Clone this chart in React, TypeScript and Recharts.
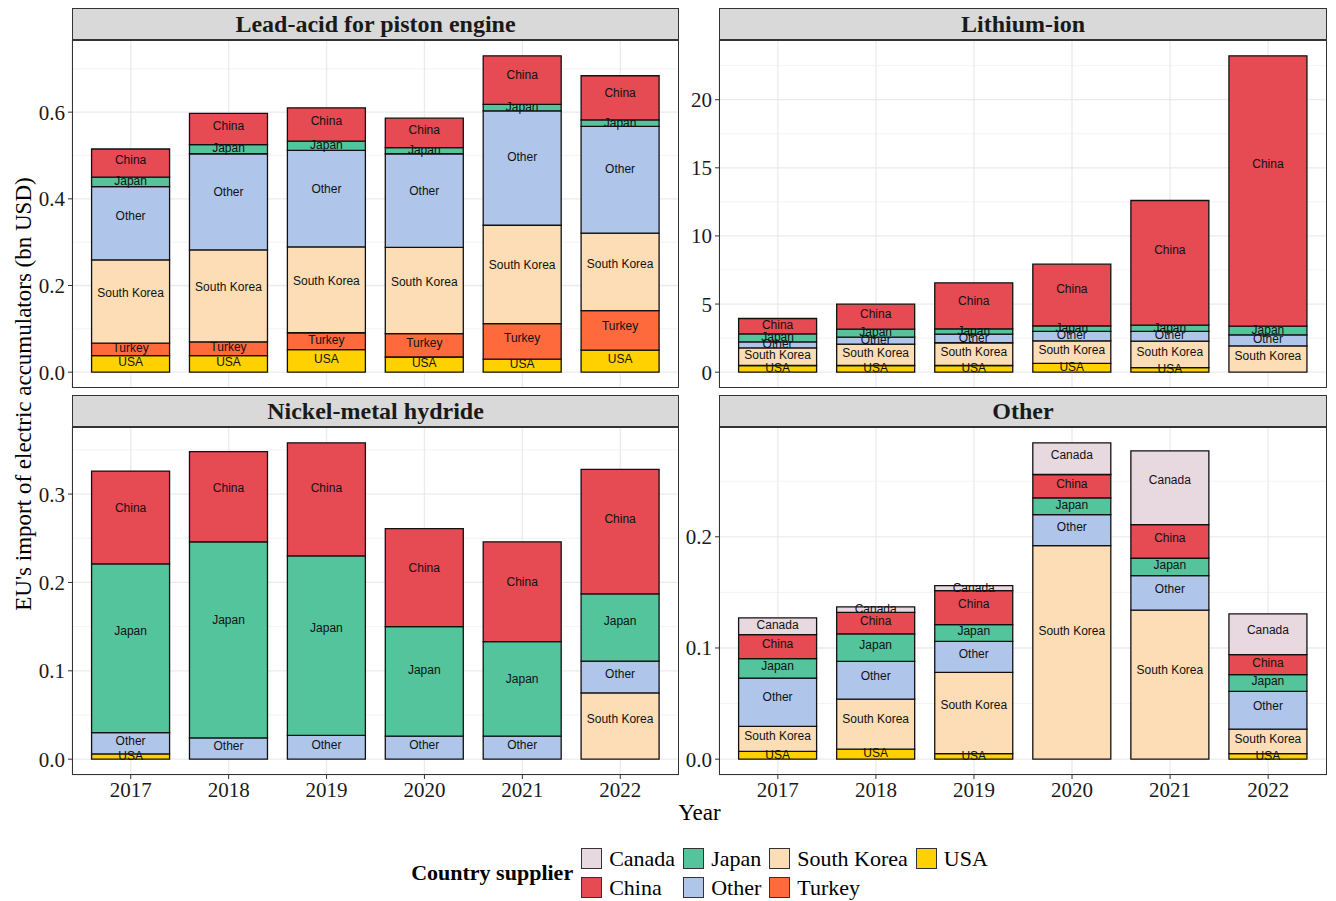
import React from 'react';
import { BarChart, Bar, XAxis, YAxis, CartesianGrid, LabelList } from 'recharts';

const years = ['2017', '2018', '2019', '2020', '2021', '2022'];
const legendOrder = ['Canada', 'China', 'Japan', 'Other', 'South Korea', 'Turkey', 'USA'];
const stackOrder = ['USA', 'Turkey', 'South Korea', 'Other', 'Japan', 'China', 'Canada'];
const colors: Record<string, string> = {
  Canada: '#E8D8E0',
  China: '#E64A53',
  Japan: '#53C49B',
  Other: '#AFC6EA',
  'South Korea': '#FDDDB6',
  Turkey: '#FF6A3D',
  USA: '#FFD100',
};

// Lead-acid for piston engine (bn USD)
const leadUSA = [0.038, 0.038, 0.052, 0.035, 0.030, 0.051];
const leadTurkey = [0.029, 0.032, 0.039, 0.054, 0.082, 0.091];
const leadSouthKorea = [0.192, 0.212, 0.198, 0.199, 0.227, 0.179];
const leadOther = [0.169, 0.222, 0.223, 0.216, 0.264, 0.246];
const leadJapan = [0.022, 0.021, 0.021, 0.014, 0.015, 0.015];
const leadChina = [0.065, 0.072, 0.077, 0.068, 0.112, 0.102];

// Lithium-ion
const liUSA = [0.49, 0.49, 0.49, 0.64, 0.34, 0];
const liSouthKorea = [1.29, 1.57, 1.67, 1.66, 1.94, 1.93];
const liOther = [0.44, 0.51, 0.63, 0.69, 0.71, 0.81];
const liJapan = [0.59, 0.59, 0.39, 0.41, 0.46, 0.64];
const liChina = [1.13, 1.83, 3.38, 4.53, 9.15, 19.84];

// Nickel-metal hydride
const niUSA = [0.006, 0, 0, 0, 0, 0];
const niSouthKorea = [0, 0, 0, 0, 0, 0.075];
const niOther = [0.024, 0.024, 0.027, 0.026, 0.026, 0.036];
const niJapan = [0.191, 0.222, 0.203, 0.124, 0.107, 0.076];
const niChina = [0.105, 0.102, 0.128, 0.111, 0.113, 0.141];

// Other
const otUSA = [0.007, 0.009, 0.005, 0, 0, 0.005];
const otSouthKorea = [0.0225, 0.045, 0.073, 0.192, 0.134, 0.022];
const otOther = [0.0434, 0.034, 0.028, 0.028, 0.031, 0.034];
const otJapan = [0.0175, 0.0247, 0.015, 0.015, 0.0157, 0.015];
const otChina = [0.0216, 0.0193, 0.0306, 0.021, 0.0303, 0.018];
const otCanada = [0.015, 0.005, 0.0045, 0.0285, 0.0663, 0.0366];

const leadTicks = [0, 0.2, 0.4, 0.6];
const leadMinor = [0.1, 0.3, 0.5, 0.7];
const liTicks = [0, 5, 10, 15, 20];
const liMinor = [2.5, 7.5, 12.5, 17.5, 22.5];
const niTicks = [0, 0.1, 0.2, 0.3];
const niMinor = [0.05, 0.15, 0.25, 0.35];
const otTicks = [0, 0.1, 0.2];
const otMinor = [0.05, 0.15, 0.25];

const SERIF = '"Liberation Serif", "Times New Roman", serif';
const SANS = '"Liberation Sans", Arial, sans-serif';

function buildRows(series: Record<string, number[]>) {
  return years.map((y, i) => {
    const row: Record<string, any> = { year: y };
    Object.keys(series).forEach((k) => {
      row[k] = series[k][i];
    });
    return row;
  });
}

const makeLabel = (name: string) => (props: any) => {
  const vb = props.viewBox && props.viewBox.width !== undefined ? props.viewBox : props;
  const { x, y, width, height } = vb;
  const value = props.value;
  if (!value || !height || Math.abs(height) < 0.1) return null;
  return (
    <text
      x={x + width / 2}
      y={y + height * 0.4}
      textAnchor="middle"
      dominantBaseline="central"
      fontSize={12}
      fontFamily={SANS}
      fill="#111"
    >
      {name}
    </text>
  );
};

type PanelProps = {
  title: string;
  series: Record<string, number[]>;
  ticks: number[];
  minor: number[];
  decimals: number;
  plotLeft: number;
  plotTop: number;
  plotW: number;
  plotH: number;
  showX: boolean;
};

function Panel({ title, series, ticks, minor, decimals, plotLeft, plotTop, plotW, plotH, showX }: PanelProps) {
  const rows = buildRows(series);
  const keys = stackOrder.filter((k) => series[k]);
  const maxTotal = Math.max(...rows.map((r) => keys.reduce((s, k) => s + (r[k] || 0), 0)));
  const domain = [-0.05 * maxTotal, 1.05 * maxTotal];
  const YW = 60;
  const XH = showX ? 32 : 0;
  const pad = plotW / 62;
  const stripH = 32;
  return (
    <>
      <div
        style={{
          position: 'absolute',
          left: plotLeft,
          top: plotTop - stripH,
          width: plotW,
          height: stripH,
          background: '#D9D9D9',
          border: '1px solid #333',
          boxSizing: 'border-box',
          display: 'flex',
          alignItems: 'center',
          justifyContent: 'center',
          fontFamily: SERIF,
          fontWeight: 'bold',
          fontSize: 24,
          color: '#1A1A1A',
        }}
      >
        {title}
      </div>
      <div style={{ position: 'absolute', left: plotLeft - YW, top: plotTop }}>
        <BarChart
          width={plotW + YW}
          height={plotH + XH}
          data={rows}
          margin={{ top: 0, right: 0, bottom: 0, left: 0 }}
          barCategoryGap="10%"
        >
          <CartesianGrid horizontalValues={minor} vertical={false} stroke="#EEEEEE" strokeWidth={0.7} />
          <CartesianGrid stroke="#EBEBEB" strokeWidth={1.3} />
          <XAxis
            dataKey="year"
            hide={!showX}
            padding={{ left: pad, right: pad }}
            height={XH}
            interval={0}
            axisLine={false}
            tickSize={4}
            tickMargin={3}
            tickLine={{ stroke: '#333' }}
            tick={{ fill: '#1A1A1A', fontSize: 21, fontFamily: SERIF }}
          />
          <YAxis
            type="number"
            domain={domain}
            allowDataOverflow
            ticks={ticks}
            interval={0}
            tickFormatter={(v: number) => v.toFixed(decimals)}
            width={YW}
            axisLine={false}
            tickSize={4}
            tickMargin={3}
            tickLine={{ stroke: '#333' }}
            tick={{ fill: '#1A1A1A', fontSize: 21, fontFamily: SERIF }}
          />
          {keys.map((k) => (
            <Bar
              key={k}
              dataKey={k}
              stackId="s"
              fill={colors[k]}
              stroke="#111"
              strokeWidth={1.3}
              isAnimationActive={false}
            >
              <LabelList dataKey={k} content={makeLabel(k)} />
            </Bar>
          ))}
        </BarChart>
      </div>
      <div
        style={{
          position: 'absolute',
          left: plotLeft,
          top: plotTop,
          width: plotW,
          height: plotH,
          border: '1px solid #333',
          boxSizing: 'border-box',
          pointerEvents: 'none',
        }}
      />
    </>
  );
}

export default function App() {
  const leftX = 72;
  const rightX = 719;
  const wL = 607;
  const wR = 608;
  const topY = 40;
  const botY = 427;
  const h = 348;
  return (
    <div
      style={{
        position: 'absolute',
        left: 0,
        top: 0,
        width: 1336,
        height: 901,
        background: '#fff',
        overflow: 'hidden',
        fontFamily: SERIF,
      }}
    >
      <Panel
        title="Lead-acid for piston engine"
        series={{ USA: leadUSA, Turkey: leadTurkey, 'South Korea': leadSouthKorea, Other: leadOther, Japan: leadJapan, China: leadChina }}
        ticks={leadTicks}
        minor={leadMinor}
        decimals={1}
        plotLeft={leftX}
        plotTop={topY}
        plotW={wL}
        plotH={h}
        showX={false}
      />
      <Panel
        title="Lithium-ion"
        series={{ USA: liUSA, 'South Korea': liSouthKorea, Other: liOther, Japan: liJapan, China: liChina }}
        ticks={liTicks}
        minor={liMinor}
        decimals={0}
        plotLeft={rightX}
        plotTop={topY}
        plotW={wR}
        plotH={h}
        showX={false}
      />
      <Panel
        title="Nickel-metal hydride"
        series={{ USA: niUSA, 'South Korea': niSouthKorea, Other: niOther, Japan: niJapan, China: niChina }}
        ticks={niTicks}
        minor={niMinor}
        decimals={1}
        plotLeft={leftX}
        plotTop={botY}
        plotW={wL}
        plotH={h}
        showX={true}
      />
      <Panel
        title="Other"
        series={{ USA: otUSA, 'South Korea': otSouthKorea, Other: otOther, Japan: otJapan, China: otChina, Canada: otCanada }}
        ticks={otTicks}
        minor={otMinor}
        decimals={1}
        plotLeft={rightX}
        plotTop={botY}
        plotW={wR}
        plotH={h}
        showX={true}
      />
      <div
        style={{
          position: 'absolute',
          left: 24,
          top: 394,
          transform: 'translate(-50%, -50%) rotate(-90deg)',
          whiteSpace: 'nowrap',
          fontSize: 23,
          color: '#000',
        }}
      >
        EU's import of electric accumulators (bn USD)
      </div>
      <div
        style={{
          position: 'absolute',
          left: 72,
          width: 1255,
          top: 799,
          height: 28,
          textAlign: 'center',
          fontSize: 23,
          lineHeight: '28px',
          color: '#000',
        }}
      >
        Year
      </div>
      <div
        style={{
          position: 'absolute',
          left: 72,
          width: 1255,
          top: 844,
          height: 58,
          display: 'flex',
          justifyContent: 'center',
          alignItems: 'center',
        }}
      >
        <div style={{ fontWeight: 'bold', fontSize: 22, marginRight: 8, color: '#000' }}>Country supplier</div>
        <div
          style={{
            display: 'grid',
            gridTemplateRows: '29px 29px',
            gridAutoFlow: 'column',
            columnGap: 8,
            alignItems: 'center',
          }}
        >
          {legendOrder.map((c) => (
            <div key={c} style={{ display: 'flex', alignItems: 'center' }}>
              <div
                style={{
                  width: 21,
                  height: 21,
                  background: colors[c],
                  border: '1.3px solid #333',
                  boxSizing: 'border-box',
                  marginRight: 7,
                }}
              />
              <span style={{ fontSize: 22, color: '#000', lineHeight: '24px' }}>{c}</span>
            </div>
          ))}
        </div>
      </div>
    </div>
  );
}
